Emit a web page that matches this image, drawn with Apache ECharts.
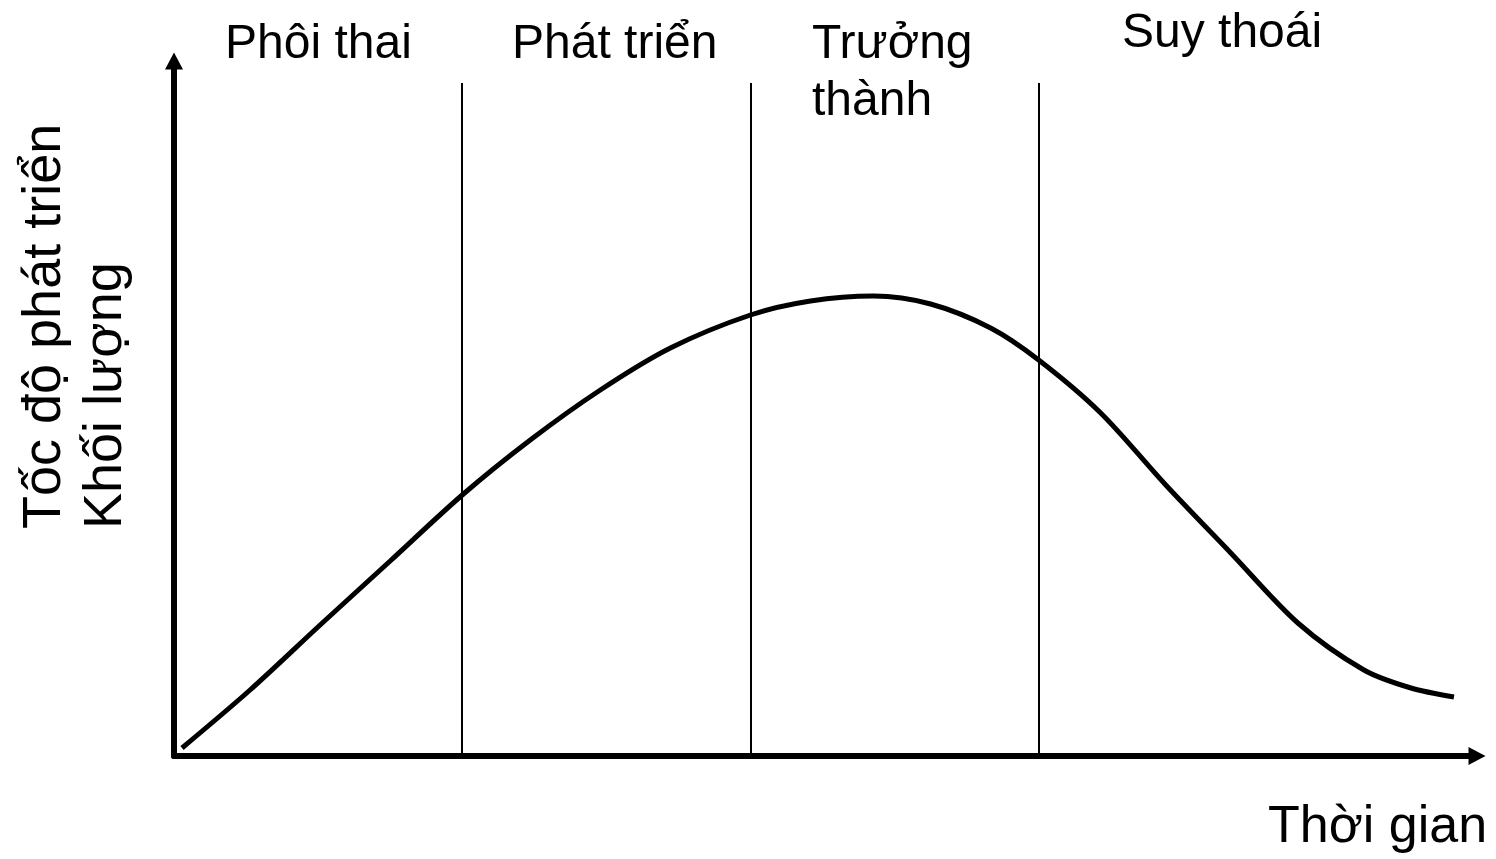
<!DOCTYPE html>
<html>
<head>
    <meta charset="UTF-8">
    <title>Chu kỳ sống</title>
    <script src="https://cdn.jsdelivr.net/npm/echarts@6/dist/echarts.min.js"></script>
    <style>
        html, body { margin: 0; width: 100%; height: 100%; background: #fff; }
        #main { width: 1496px; height: 859px; }
    </style>
</head>
<body>
    <div id="main"></div>
    <script type="text/javascript">
        // curve (time, volume)
        var timeValues   = [8, 76, 146, 216, 288, 356, 426, 496, 576, 636, 699, 756, 816, 864, 926, 991, 1056, 1123, 1189, 1236, 1279];
        var volumeValues = [8, 66, 131, 195, 261, 316, 366, 408, 441, 455, 460, 452, 428, 396, 343, 271, 203, 133, 86, 68, 59];
        // stage boundaries on the time axis, and how high the divider lines go
        var stageBounds = [288, 576, 864];
        var dividerTop = 673;
        var stageLabels = ['Phôi thai', 'Phát triển', 'Trưởng\nthành', 'Suy thoái'];
        var yTitleLines = ['Tốc độ phát triển', 'Khối lượng'];
        var xTitle = 'Thời gian';

        var font = "'Liberation Sans', Arial, sans-serif";
        var myChart = echarts.init(document.getElementById('main'));

        var curve = [];
        for (var i = 0; i < timeValues.length; i++) {
            curve.push([timeValues[i], volumeValues[i]]);
        }
        var dividers = stageBounds.map(function (x) {
            return [{ coord: [x, 0] }, { coord: [x, dividerTop] }];
        });

        var axisLine = {
            show: true,
            symbol: ['none', 'triangle'],
            symbolSize: [18, 17],
            lineStyle: { color: '#000', width: 6 }
        };

        function txt(s, x, y, size, rot) {
            var t = {
                type: 'text', x: x, y: y,
                style: { text: s, font: size + 'px ' + font, fill: '#000', align: 'left', verticalAlign: 'middle' }
            };
            if (rot) t.rotation = rot;
            return t;
        }

        var lines = stageLabels[2].split('\n');
        var option = {
            animation: false,
            grid: { left: 174, right: 19, top: 61, bottom: 103 },
            xAxis: {
                type: 'value', min: 0, max: 1302,
                axisLine: axisLine, axisTick: { show: false }, axisLabel: { show: false }, splitLine: { show: false }
            },
            yAxis: {
                type: 'value', min: 0, max: 695,
                axisLine: axisLine, axisTick: { show: false }, axisLabel: { show: false }, splitLine: { show: false }
            },
            series: [{
                type: 'line',
                data: curve,
                smooth: 0.3,
                showSymbol: false,
                lineStyle: { color: '#000', width: 5 },
                markLine: {
                    silent: true,
                    symbol: ['none', 'none'],
                    label: { show: false },
                    lineStyle: { color: '#000', width: 2, type: 'solid' },
                    data: dividers
                }
            }],
            graphic: [
                txt(stageLabels[0], 225, 45, 48),
                txt(stageLabels[1], 512, 45, 48),
                txt(lines[0], 812, 45, 48),
                txt(lines[1], 812, 102, 48),
                txt(stageLabels[3], 1122, 34, 48),
                txt(xTitle, 1268, 828, 52),
                txt(yTitleLines[0], 45, 529, 54, Math.PI / 2),
                txt(yTitleLines[1], 106, 529, 54, Math.PI / 2)
            ]
        };
        myChart.setOption(option);
    </script>
</body>
</html>
